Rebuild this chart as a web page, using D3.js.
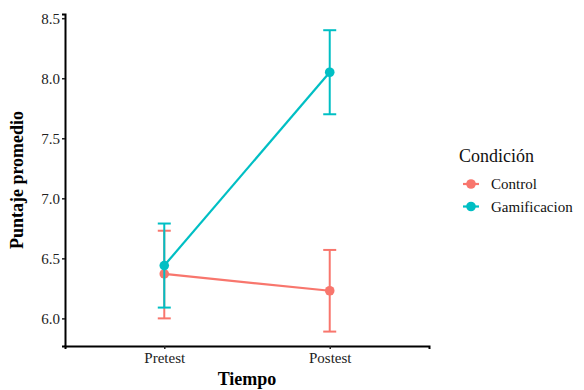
<!DOCTYPE html>
<html>
<head>
<meta charset="utf-8">
<script src="https://cdn.jsdelivr.net/npm/d3@7"></script>
</head>
<body style="margin:0">
<svg id="chart" width="584" height="390"></svg>
<script>
const times = ["Pretest", "Postest"];
const groups = ["Control", "Gamificacion"];
const groupColors = ["#F8766D", "#00BFC4"];
const controlMeans = [6.37, 6.23];
const controlLow = [6.00, 5.89];
const controlHigh = [6.73, 6.57];
const gamiMeans = [6.44, 8.05];
const gamiLow = [6.09, 7.70];
const gamiHigh = [6.79, 8.40];
const yTicks = [6.0, 6.5, 7.0, 7.5, 8.0, 8.5];

const FONT = "Liberation Serif";

const series = [
    { name: groups[0], mean: controlMeans, low: controlLow, high: controlHigh },
    { name: groups[1], mean: gamiMeans, low: gamiLow, high: gamiHigh },
];

const svg = d3.select("#chart");
const plot = { left: 65, right: 429, top: 14, bottom: 346 };

const x = d3.scalePoint().domain(times).range([plot.left, plot.right]).padding(0.6);
const y = d3.scaleLinear().domain([5.77, 8.535]).range([plot.bottom, plot.top]);
const color = d3.scaleOrdinal().domain(groups).range(groupColors);

// axes
const yAxis = svg.append("g")
    .attr("transform", `translate(${plot.left},0)`)
    .call(d3.axisLeft(y).tickValues(yTicks).tickFormat(d3.format(".1f")).tickSizeOuter(0).tickSize(3));
const xAxis = svg.append("g")
    .attr("transform", `translate(0,${plot.bottom})`)
    .call(d3.axisBottom(x).tickSizeOuter(0).tickSize(3));

[xAxis, yAxis].forEach((ax) => {
    ax.attr("font-family", null).attr("font-size", null);
    ax.select(".domain").attr("stroke", "#000").attr("stroke-width", 2);
    ax.selectAll(".tick line").attr("stroke", "#222").attr("stroke-width", 1.5);
    ax.selectAll(".tick text")
        .attr("font-family", FONT)
        .attr("font-size", 15)
        .attr("fill", "#222");
});
yAxis.selectAll(".tick text").attr("x", -5);
xAxis.selectAll(".tick text").attr("y", 6);

// axis titles
svg.append("text")
    .attr("x", (plot.left + plot.right) / 2)
    .attr("y", 385)
    .attr("text-anchor", "middle")
    .attr("font-family", FONT)
    .attr("font-size", 18)
    .attr("font-weight", "bold")
    .text("Tiempo");

svg.append("text")
    .attr("transform", `translate(23,${(plot.top + plot.bottom) / 2}) rotate(-90)`)
    .attr("text-anchor", "middle")
    .attr("font-family", FONT)
    .attr("font-size", 18)
    .attr("font-weight", "bold")
    .text("Puntaje promedio");

// series
const line = d3.line().x((d, i) => x(times[i])).y((d) => y(d));
const capW = 6.5;

series.forEach((s) => {
    const g = svg.append("g");
    const c = color(s.name);
    times.forEach((t, i) => {
        const cx = x(t);
        g.append("line")
            .attr("x1", cx).attr("x2", cx)
            .attr("y1", y(s.low[i])).attr("y2", y(s.high[i]))
            .attr("stroke", c).attr("stroke-width", 2);
        [s.low[i], s.high[i]].forEach((v) => {
            g.append("line")
                .attr("x1", cx - capW).attr("x2", cx + capW)
                .attr("y1", y(v)).attr("y2", y(v))
                .attr("stroke", c).attr("stroke-width", 2);
        });
    });
    g.append("path")
        .datum(s.mean)
        .attr("d", line)
        .attr("fill", "none")
        .attr("stroke", c)
        .attr("stroke-width", 2.2);
    g.selectAll("circle")
        .data(s.mean)
        .join("circle")
        .attr("cx", (d, i) => x(times[i]))
        .attr("cy", (d) => y(d))
        .attr("r", 4.8)
        .attr("fill", c);
});

// legend
const legend = svg.append("g").attr("transform", "translate(459,0)");
legend.append("text")
    .attr("x", 0).attr("y", 162)
    .attr("font-family", FONT)
    .attr("font-size", 18)
    .attr("fill", "#111")
    .text("Condición");
groups.forEach((name, i) => {
    const cy = 184 + i * 22.5;
    legend.append("line")
        .attr("x1", 4).attr("x2", 20)
        .attr("y1", cy).attr("y2", cy)
        .attr("stroke", color(name)).attr("stroke-width", 2.2);
    legend.append("circle")
        .attr("cx", 12).attr("cy", cy).attr("r", 4.8)
        .attr("fill", color(name));
    legend.append("text")
        .attr("x", 32).attr("y", cy + 5)
        .attr("font-family", FONT)
        .attr("font-size", 15)
        .attr("fill", "#111")
        .text(name);
});
</script>
</body>
</html>
